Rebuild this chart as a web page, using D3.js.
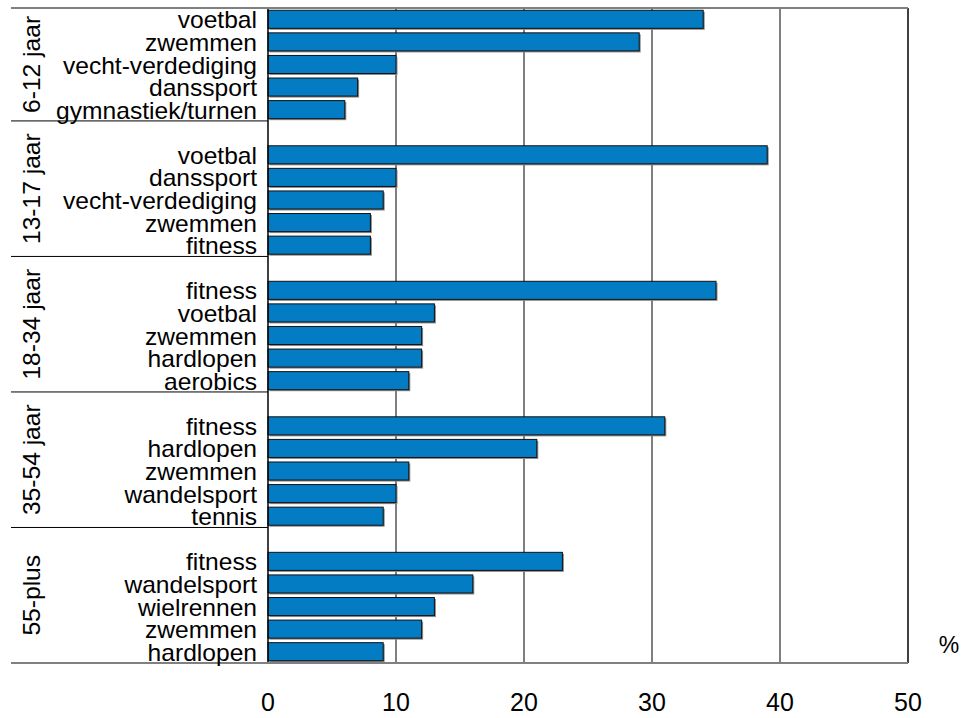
<!DOCTYPE html>
<html>
<head>
<meta charset="utf-8">
<script src="https://cdn.jsdelivr.net/npm/d3@7"></script>
<style>
  body { margin: 0; background: #fff; }
  svg text { font-family: "Liberation Sans", Arial, sans-serif; fill: #000; }
</style>
</head>
<body>
<svg id="chart"></svg>
<script>
// leeftijdsgroepen en top-5 sporten per groep (in %)
const groups = ["6-12 jaar", "13-17 jaar", "18-34 jaar", "35-54 jaar", "55-plus"];
const sports = [
  ["voetbal", "zwemmen", "vecht-verdediging", "danssport", "gymnastiek/turnen"],
  ["voetbal", "danssport", "vecht-verdediging", "zwemmen", "fitness"],
  ["fitness", "voetbal", "zwemmen", "hardlopen", "aerobics"],
  ["fitness", "hardlopen", "zwemmen", "wandelsport", "tennis"],
  ["fitness", "wandelsport", "wielrennen", "zwemmen", "hardlopen"]
];
const values = [
  [34, 29, 10, 7, 6],
  [39, 10, 9, 8, 8],
  [35, 13, 12, 12, 11],
  [31, 21, 11, 10, 9],
  [23, 16, 13, 12, 9]
];
const xTicks = [0, 10, 20, 30, 40, 50];

const width = 967, height = 718;
const plotLeft = 268, plotRight = 908, plotTop = 8, plotBottom = 663;
const lineStart = 11;
const fontSize = 23, stretch = 1.07;   // iets bredere letters zoals in het origineel

const svg = d3.select("#chart").attr("width", width).attr("height", height);

// rijen: elke groep behalve de eerste begint met een lege rij
const rows = [];
const data = [];
groups.forEach((g, gi) => {
  if (gi > 0) rows.push(g + "|leeg");
  sports[gi].forEach((s, si) => {
    const key = g + "|" + s;
    rows.push(key);
    data.push({ group: g, sport: s, value: values[gi][si], key: key });
  });
});

const x = d3.scaleLinear().domain([0, 50]).range([plotLeft, plotRight]);
const y = d3.scaleBand().domain(rows).range([plotTop, plotBottom]).paddingInner(0.2).paddingOuter(0.1);
const step = y.step();

// rasterlijnen
svg.append("g")
  .selectAll("line")
  .data(xTicks.slice(1, -1))
  .enter().append("line")
    .attr("x1", d => x(d)).attr("x2", d => x(d))
    .attr("y1", plotTop).attr("y2", plotBottom)
    .attr("stroke", "#000").attr("stroke-width", 1);

// balken met schaduw
const bars = svg.append("g");
bars.selectAll("rect.shadow")
  .data(data)
  .enter().append("rect")
    .attr("class", "shadow")
    .attr("x", x(0) + 1.5)
    .attr("y", d => y(d.key) + 1.5)
    .attr("width", d => x(d.value) - x(0))
    .attr("height", y.bandwidth())
    .attr("fill", "#8a8a8a");
bars.selectAll("rect.bar")
  .data(data)
  .enter().append("rect")
    .attr("class", "bar")
    .attr("x", x(0))
    .attr("y", d => y(d.key))
    .attr("width", d => x(d.value) - x(0))
    .attr("height", y.bandwidth())
    .attr("fill", "#047cc4")
    .attr("stroke", "#111")
    .attr("stroke-width", 1);

// kader
svg.append("line").attr("x1", plotLeft).attr("x2", plotLeft).attr("y1", plotTop).attr("y2", plotBottom)
  .attr("stroke", "#000").attr("stroke-width", 1.5);
svg.append("line").attr("x1", plotRight).attr("x2", plotRight).attr("y1", plotTop).attr("y2", plotBottom)
  .attr("stroke", "#000").attr("stroke-width", 1.5);
svg.append("line").attr("x1", lineStart).attr("x2", plotRight).attr("y1", plotTop).attr("y2", plotTop)
  .attr("stroke", "#808080").attr("stroke-width", 2);
svg.append("line").attr("x1", lineStart).attr("x2", plotRight).attr("y1", plotBottom).attr("y2", plotBottom)
  .attr("stroke", "#808080").attr("stroke-width", 2);

// scheidingslijnen tussen groepen
const groupBounds = groups.map((g, gi) => {
  const first = gi > 0 ? g + "|leeg" : g + "|" + sports[gi][0];
  const last = g + "|" + sports[gi][sports[gi].length - 1];
  const y0 = gi === 0 ? plotTop : y(first) - step * y.paddingInner() / 2;
  const y1 = gi === groups.length - 1 ? plotBottom : y(last) + y.bandwidth() + step * y.paddingInner() / 2;
  return { group: g, y0: y0, y1: y1 };
});
svg.append("g")
  .selectAll("line")
  .data(groupBounds.slice(0, -1))
  .enter().append("line")
    .attr("x1", lineStart).attr("x2", plotLeft)
    .attr("y1", d => d.y1).attr("y2", d => d.y1)
    .attr("stroke", "#000").attr("stroke-width", 1);

// groepslabels (verticaal)
svg.append("g")
  .selectAll("text")
  .data(groupBounds)
  .enter().append("text")
    .attr("transform", d => `translate(40,${(d.y0 + d.y1) / 2}) rotate(-90) scale(${stretch},1)`)
    .attr("text-anchor", "middle")
    .attr("font-size", fontSize)
    .text(d => d.group);

// sportlabels
svg.append("g")
  .selectAll("text")
  .data(data)
  .enter().append("text")
    .attr("transform", d => `translate(${plotLeft - 11},${y(d.key) + y.bandwidth()}) scale(${stretch},1)`)
    .attr("text-anchor", "end")
    .attr("font-size", fontSize)
    .text(d => d.sport);

// x-as labels
svg.append("g")
  .selectAll("text")
  .data(xTicks)
  .enter().append("text")
    .attr("x", d => x(d))
    .attr("y", 711)
    .attr("text-anchor", "middle")
    .attr("font-size", 25)
    .text(d => d);

svg.append("text")
  .attr("x", 949).attr("y", 653)
  .attr("text-anchor", "middle")
  .attr("font-size", 23)
  .text("%");
</script>
</body>
</html>
